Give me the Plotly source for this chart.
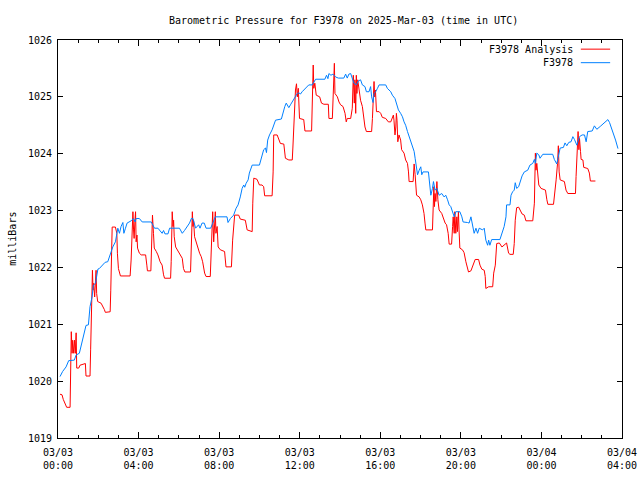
import pandas as pd
import plotly.graph_objects as go

# ---- data (hours after 2025-03-03 00:00 UTC, pressure in mb) ----
station_hours = [0.10, 0.23, 0.40, 0.53, 0.81, 0.90, 1.06, 1.19, 1.31, 1.39, 1.51, 1.59, 1.69, 1.76, 1.86,
    1.98, 2.05, 2.22, 2.34, 2.47, 2.55, 2.64, 2.72, 2.85, 2.94, 2.97, 3.05, 3.13, 3.22, 3.27, 3.35, 3.43,
    3.63, 3.75, 3.83, 3.88, 4.04, 4.18, 4.63, 4.71, 4.79, 4.96, 5.07, 5.17, 5.24, 5.31, 5.46, 5.54, 6.03,
    6.17, 6.28, 6.40, 6.53, 6.62, 6.70, 6.75, 6.83, 6.98, 7.05, 7.15, 7.26, 7.35, 7.58, 7.65, 7.73, 7.81,
    8.39, 8.44, 8.56, 8.72, 8.84, 8.94, 9.05, 9.14, 9.22, 9.27, 9.34, 9.44, 9.50, 9.55, 9.64, 10.00, 10.08,
    10.13, 10.21, 10.30, 10.35, 10.41, 10.50, 10.63, 10.71, 10.80, 11.09, 11.16, 11.26, 11.33, 11.46, 11.54,
    11.63, 11.71, 11.79, 11.88, 11.96, 12.04, 12.12, 12.29, 12.45, 12.62, 12.70, 12.79, 13.25, 13.33, 13.40,
    13.45, 13.55, 13.65, 13.78, 13.92, 14.19, 14.28, 14.36, 14.44, 14.53, 14.61, 14.69, 14.81, 14.91, 15.02,
    15.11, 15.24, 15.31, 15.44, 15.52, 15.57, 15.64, 15.69, 15.77, 15.86, 15.94, 16.27, 16.35, 16.52, 16.60,
    16.73, 16.80, 16.90, 17.01, 17.10, 17.18, 17.26, 17.35, 17.43, 17.51, 17.60, 17.68, 17.73, 17.80, 17.85,
    17.93, 18.01, 18.06, 18.12, 18.39, 18.46, 18.51, 18.59, 18.64, 18.72, 18.81, 18.92, 19.05, 19.17, 19.25,
    19.34, 19.42, 19.50, 19.59, 19.67, 19.75, 19.95, 20.05, 20.11, 20.33, 20.41, 20.50, 20.58, 20.66, 20.75,
    20.83, 20.91, 21.08, 21.16, 21.24, 21.33, 21.38, 21.44, 21.53, 21.94, 22.04, 22.15, 22.24, 22.27, 22.44,
    22.49, 22.57, 22.65, 22.70, 22.77, 22.87, 22.94, 23.04, 23.15, 23.32, 23.43, 23.57, 23.65, 23.70, 23.77,
    23.87, 23.93, 24.07, 24.56, 24.64, 24.76, 24.86, 24.93, 25.09, 25.17, 25.26, 25.36, 25.47, 25.56, 25.64,
    25.76, 25.89, 26.02, 26.14, 26.22, 26.30, 26.52, 26.63, 26.75, 26.92, 27.05, 27.21, 27.30, 27.38, 27.55,
    27.68, 27.80]
station_mb = [1020.08, 1020.17, 1020.25, 1020.36, 1020.37, 1020.46, 1020.49, 1020.69, 1020.90, 1020.98,
    1020.99, 1021.31, 1021.48, 1021.69, 1021.72, 1021.97, 1021.98, 1022.04, 1022.09, 1022.10, 1022.19,
    1022.25, 1022.36, 1022.45, 1022.60, 1022.69, 1022.60, 1022.72, 1022.79, 1022.60, 1022.69, 1022.78,
    1022.82, 1022.86, 1022.80, 1022.86, 1022.86, 1022.80, 1022.80, 1022.75, 1022.69, 1022.69, 1022.65,
    1022.60, 1022.65, 1022.59, 1022.59, 1022.69, 1022.69, 1022.60, 1022.65, 1022.72, 1022.78, 1022.86,
    1022.86, 1022.80, 1022.69, 1022.75, 1022.69, 1022.78, 1022.78, 1022.69, 1022.69, 1022.75, 1022.83,
    1022.89, 1022.89, 1022.79, 1022.86, 1022.92, 1023.04, 1023.10, 1023.24, 1023.39, 1023.45, 1023.41,
    1023.48, 1023.54, 1023.66, 1023.71, 1023.80, 1023.80, 1023.89, 1023.98, 1024.07, 1024.10, 1024.02,
    1024.24, 1024.33, 1024.42, 1024.50, 1024.59, 1024.61, 1024.71, 1024.83, 1024.89, 1024.81, 1024.86,
    1024.91, 1024.97, 1025.01, 1025.06, 1025.07, 1025.05, 1025.09, 1025.15, 1025.21, 1025.21, 1025.27,
    1025.31, 1025.31, 1025.38, 1025.32, 1025.41, 1025.38, 1025.40, 1025.35, 1025.33, 1025.33, 1025.40,
    1025.33, 1025.40, 1025.41, 1025.32, 1025.24, 1025.21, 1025.28, 1025.30, 1025.21, 1025.18, 1025.09,
    1025.09, 1025.18, 1025.00, 1024.90, 1025.06, 1025.09, 1025.15, 1025.21, 1025.21, 1025.15, 1025.09,
    1025.03, 1024.97, 1024.89, 1024.77, 1024.71, 1024.65, 1024.56, 1024.50, 1024.39, 1024.30, 1024.21,
    1024.12, 1024.04, 1023.92, 1023.77, 1023.63, 1023.71, 1023.77, 1023.63, 1023.68, 1023.68, 1023.48,
    1023.27, 1023.39, 1023.51, 1023.36, 1023.39, 1023.27, 1023.30, 1023.24, 1023.27, 1023.19, 1023.10,
    1023.07, 1022.95, 1022.89, 1022.98, 1022.98, 1022.89, 1022.80, 1022.79, 1022.78, 1022.89, 1022.72,
    1022.60, 1022.69, 1022.60, 1022.69, 1022.66, 1022.69, 1022.48, 1022.39, 1022.48, 1022.39, 1022.49,
    1022.49, 1022.60, 1022.72, 1022.89, 1023.10, 1023.10, 1023.27, 1023.33, 1023.36, 1023.49, 1023.39,
    1023.42, 1023.51, 1023.61, 1023.68, 1023.71, 1023.80, 1023.83, 1023.90, 1023.83, 1024.01, 1023.98,
    1023.92, 1023.99, 1023.99, 1023.90, 1023.82, 1023.98, 1024.10, 1024.11, 1024.19, 1024.14, 1024.20,
    1024.21, 1024.30, 1024.25, 1024.15, 1024.30, 1024.33, 1024.33, 1024.21, 1024.39, 1024.40, 1024.49,
    1024.43, 1024.48, 1024.52, 1024.58, 1024.60, 1024.55, 1024.39, 1024.24, 1024.09]

analysis_hours = [0.10, 0.20, 0.26, 0.36, 0.43, 0.60, 0.63, 0.66, 0.70, 0.73, 0.78, 0.82, 0.86, 0.90, 0.93,
    1.03, 1.09, 1.23, 1.36, 1.39, 1.59, 1.62, 1.68, 1.71, 1.74, 1.77, 1.82, 1.86, 1.89, 1.92, 1.97, 2.14,
    2.22, 2.30, 2.35, 2.59, 2.62, 2.69, 2.85, 2.92, 2.95, 3.00, 3.10, 3.58, 3.63, 3.68, 3.72, 3.75, 3.78,
    3.82, 3.85, 3.88, 3.92, 3.95, 4.04, 4.13, 4.35, 4.41, 4.44, 4.61, 4.64, 4.69, 4.74, 4.78, 4.88, 4.96,
    5.07, 5.17, 5.24, 5.29, 5.59, 5.62, 5.67, 5.71, 5.74, 5.77, 5.84, 5.96, 6.07, 6.17, 6.23, 6.30, 6.58,
    6.62, 6.67, 6.70, 6.73, 6.78, 6.87, 6.95, 7.03, 7.11, 7.18, 7.28, 7.35, 7.56, 7.61, 7.68, 7.73, 7.78,
    7.81, 7.84, 7.90, 7.95, 8.06, 8.27, 8.34, 8.61, 8.67, 8.77, 8.97, 9.05, 9.30, 9.39, 9.64, 9.67, 9.72,
    9.88, 10.00, 10.13, 10.21, 10.26, 10.63, 10.68, 10.71, 10.88, 10.96, 11.04, 11.21, 11.26, 11.29, 11.46,
    11.63, 11.66, 11.71, 11.76, 11.79, 11.84, 11.88, 11.93, 11.96, 11.99, 12.20, 12.26, 12.59, 12.62, 12.67,
    12.70, 12.75, 12.82, 12.99, 13.08, 13.20, 13.42, 13.45, 13.62, 13.67, 13.72, 13.75, 13.87, 13.95, 14.03,
    14.15, 14.25, 14.31, 14.36, 14.53, 14.61, 14.66, 14.71, 14.74, 14.78, 14.81, 14.84, 14.88, 14.94, 15.02,
    15.11, 15.19, 15.24, 15.31, 15.57, 15.61, 15.64, 15.69, 15.72, 15.76, 15.81, 15.94, 16.02, 16.10, 16.27,
    16.35, 16.40, 16.52, 16.60, 16.65, 16.68, 16.73, 16.77, 16.80, 16.83, 16.87, 16.93, 17.01, 17.06, 17.18,
    17.26, 17.35, 17.40, 17.43, 17.63, 17.68, 17.73, 17.80, 17.93, 18.01, 18.09, 18.17, 18.22, 18.26, 18.59,
    18.62, 18.66, 18.69, 18.72, 18.76, 18.81, 18.86, 18.92, 19.05, 19.12, 19.22, 19.29, 19.37, 19.42, 19.54,
    19.59, 19.62, 19.67, 19.70, 19.75, 19.80, 19.83, 19.88, 19.91, 19.95, 20.08, 20.16, 20.25, 20.33, 20.38,
    20.50, 20.61, 20.71, 20.88, 20.95, 21.04, 21.16, 21.21, 21.24, 21.38, 21.58, 21.63, 21.71, 21.78, 21.91,
    22.04, 22.15, 22.27, 22.37, 22.44, 22.60, 22.65, 22.70, 22.77, 22.87, 22.94, 23.04, 23.15, 23.23, 23.57,
    23.65, 23.70, 23.73, 23.77, 23.82, 23.87, 23.98, 24.20, 24.27, 24.32, 24.60, 24.67, 24.73, 24.80, 24.84,
    24.88, 24.93, 25.14, 25.22, 25.31, 25.69, 25.72, 25.77, 25.82, 25.86, 25.89, 25.94, 25.97, 26.06, 26.10,
    26.30, 26.38, 26.43, 26.68]
analysis_mb = [1019.77, 1019.76, 1019.68, 1019.61, 1019.54, 1019.54, 1020.20, 1020.87, 1020.49, 1020.72,
    1020.49, 1020.72, 1020.49, 1020.85, 1020.23, 1020.23, 1020.28, 1020.30, 1020.31, 1020.09, 1020.09,
    1020.55, 1021.63, 1021.95, 1021.60, 1021.72, 1021.48, 1021.81, 1021.95, 1021.54, 1021.40, 1021.37,
    1021.32, 1021.26, 1021.21, 1021.22, 1021.60, 1022.71, 1022.71, 1022.60, 1022.25, 1021.98, 1021.85,
    1021.85, 1022.13, 1022.83, 1022.98, 1022.66, 1022.51, 1022.83, 1022.98, 1022.45, 1022.57, 1022.34,
    1022.25, 1022.22, 1022.22, 1022.04, 1021.94, 1021.94, 1022.22, 1022.92, 1022.60, 1022.34, 1022.28,
    1022.22, 1022.10, 1022.04, 1021.87, 1021.81, 1021.81, 1022.10, 1022.98, 1022.72, 1022.83, 1022.54,
    1022.36, 1022.28, 1022.22, 1022.16, 1021.98, 1021.92, 1021.92, 1022.31, 1022.98, 1022.72, 1022.83,
    1022.54, 1022.42, 1022.34, 1022.25, 1022.19, 1022.10, 1021.90, 1021.84, 1021.84, 1022.45, 1022.98,
    1022.45, 1022.83, 1022.98, 1022.60, 1022.72, 1022.36, 1022.31, 1022.28, 1022.01, 1022.01, 1022.48,
    1022.92, 1022.92, 1022.85, 1022.83, 1022.66, 1022.63, 1023.13, 1023.57, 1023.55, 1023.45, 1023.45,
    1023.42, 1023.26, 1023.26, 1023.68, 1024.33, 1024.33, 1024.24, 1024.18, 1024.17, 1024.01, 1023.92,
    1023.89, 1023.89, 1024.10, 1024.50, 1024.94, 1025.12, 1025.23, 1025.00, 1025.15, 1024.77, 1024.62,
    1024.60, 1024.40, 1024.40, 1024.71, 1025.56, 1025.15, 1025.24, 1025.03, 1025.00, 1024.89, 1024.87,
    1024.87, 1024.62, 1024.62, 1025.24, 1025.59, 1025.06, 1025.00, 1024.91, 1024.86, 1024.83, 1024.71,
    1024.56, 1024.62, 1024.62, 1024.80, 1025.38, 1024.89, 1025.30, 1024.71, 1025.38, 1025.06, 1025.30,
    1025.12, 1024.94, 1024.83, 1024.62, 1024.47, 1024.39, 1024.39, 1024.62, 1024.94, 1025.27, 1025.00,
    1025.12, 1024.74, 1024.74, 1024.71, 1024.64, 1024.62, 1024.59, 1024.56, 1024.56, 1024.62, 1024.68,
    1024.59, 1024.33, 1024.47, 1024.71, 1024.59, 1024.21, 1024.33, 1024.24, 1024.07, 1024.01, 1023.89,
    1023.83, 1023.68, 1023.51, 1023.51, 1023.82, 1023.63, 1023.27, 1023.24, 1023.19, 1023.10, 1022.95,
    1022.78, 1022.66, 1022.66, 1023.07, 1023.42, 1023.07, 1023.30, 1023.16, 1023.51, 1023.19, 1023.01,
    1022.95, 1022.86, 1022.78, 1022.75, 1022.60, 1022.41, 1022.41, 1022.72, 1022.89, 1022.60, 1022.98,
    1022.60, 1022.89, 1022.63, 1022.98, 1022.66, 1022.34, 1022.31, 1022.26, 1022.10, 1021.95, 1021.92,
    1021.94, 1022.06, 1022.14, 1022.14, 1022.04, 1021.97, 1021.95, 1021.84, 1021.63, 1021.66, 1021.66,
    1021.90, 1022.04, 1022.42, 1022.43, 1022.36, 1022.39, 1022.43, 1022.25, 1022.23, 1022.23, 1022.42,
    1022.83, 1023.05, 1023.06, 1023.02, 1022.94, 1022.92, 1022.82, 1022.82, 1023.13, 1024.01, 1023.71,
    1023.83, 1023.60, 1023.45, 1023.39, 1023.36, 1023.19, 1023.11, 1023.11, 1023.30, 1023.54, 1023.83,
    1024.14, 1023.68, 1023.54, 1023.51, 1023.36, 1023.30, 1023.30, 1023.60, 1023.89, 1024.39, 1024.07,
    1024.27, 1024.04, 1023.90, 1023.89, 1023.76, 1023.74, 1023.66, 1023.52, 1023.52]

tick_hours = [0, 4, 8, 12, 16, 20, 24, 28]
tick_labels = ["03/03<br>00:00", "03/03<br>04:00", "03/03<br>08:00", "03/03<br>12:00",
               "03/03<br>16:00", "03/03<br>20:00", "03/04<br>00:00", "03/04<br>04:00"]
y_ticks = [1019, 1020, 1021, 1022, 1023, 1024, 1025, 1026]

base = pd.Timestamp("2025-03-03 00:00")
def to_time(hours):
    return [base + pd.Timedelta(hours=h) for h in hours]

FONT = "DejaVu Sans Mono"
RED = "#ff0000"
BLUE = "#0080ff"

fig = go.Figure()
fig.add_trace(go.Scatter(x=to_time(analysis_hours), y=analysis_mb, mode="lines",
                         name="F3978 Analysis", line=dict(color=RED, width=1)))
fig.add_trace(go.Scatter(x=to_time(station_hours), y=station_mb, mode="lines",
                         name="F3978", line=dict(color=BLUE, width=1)))

# plot area at x 58..622, y 40..438 in the 640x480 window
fig.update_layout(
    width=640, height=480,
    margin=dict(l=58, r=18, t=40, b=42),
    paper_bgcolor="white", plot_bgcolor="white",
    showlegend=False,
    font=dict(family=FONT, size=10, color="black"),
    xaxis=dict(
        range=[base, base + pd.Timedelta(hours=28)],
        tickvals=to_time(tick_hours), ticktext=tick_labels,
        ticks="inside", ticklen=6, tickcolor="black", tickwidth=1,
        minor=dict(dtick=3600000, ticks="inside", ticklen=3, tickcolor="black"),
        showline=True, linecolor="black", linewidth=1, mirror="allticks",
        showgrid=False, zeroline=False, automargin=False,
        ticklabelstandoff=5, ticklabeloverflow="allow",
        tickfont=dict(family=FONT, size=10),
    ),
    yaxis=dict(
        range=[1019, 1026],
        tickvals=y_ticks, ticktext=[str(v) for v in y_ticks],
        ticks="inside", ticklen=5, tickcolor="black", tickwidth=1,
        showline=True, linecolor="black", linewidth=1, mirror="allticks",
        showgrid=False, zeroline=False, automargin=False,
        ticklabelstandoff=3,
        tickfont=dict(family=FONT, size=10),
    ),
    annotations=[
        dict(text="Barometric Pressure for F3978 on 2025-Mar-03 (time in UTC)",
             xref="paper", yref="paper", x=0.507, y=1.050, showarrow=False,
             xanchor="center", yanchor="middle", font=dict(family=FONT, size=10)),
        dict(text="milliBars", xref="paper", yref="paper", x=-0.082, y=0.5,
             textangle=-90, showarrow=False, xanchor="center", yanchor="middle",
             font=dict(family=FONT, size=10)),
        dict(text="F3978 Analysis", xref="paper", yref="paper", x=0.917, y=0.977,
             showarrow=False, xanchor="right", yanchor="middle", font=dict(family=FONT, size=10)),
        dict(text="F3978", xref="paper", yref="paper", x=0.917, y=0.943,
             showarrow=False, xanchor="right", yanchor="middle", font=dict(family=FONT, size=10)),
    ],
    shapes=[
        dict(type="line", xref="paper", yref="paper", x0=0.927, x1=0.979, y0=0.977, y1=0.977,
             line=dict(color=RED, width=1)),
        dict(type="line", xref="paper", yref="paper", x0=0.927, x1=0.979, y0=0.943, y1=0.943,
             line=dict(color=BLUE, width=1)),
    ],
)

# remove the browser's default 8px page margin so the 640x480 figure fills the window
fig.write_html("out.html",
               config={"displayModeBar": False},
               post_script="document.body.style.margin='0px';document.body.style.overflow='hidden';")
